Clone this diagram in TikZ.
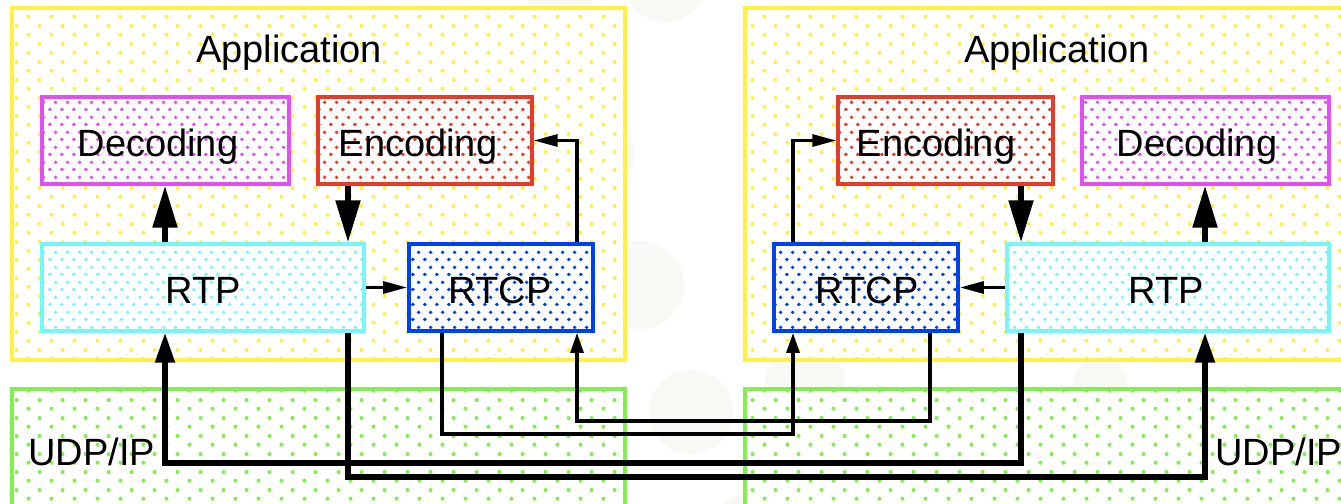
\documentclass[tikz,border=0pt]{standalone}
\usepackage{fontspec}
\setmainfont{Liberation Sans}
\usetikzlibrary{arrows.meta,patterns,fit}

\definecolor{ylw}{RGB}{255,240,70}
\definecolor{grn}{RGB}{130,238,80}
\definecolor{mag}{RGB}{224,80,240}
\definecolor{redb}{RGB}{228,60,40}
\definecolor{cyn}{RGB}{120,246,246}
\definecolor{blu}{RGB}{0,64,240}
\definecolor{haze}{RGB}{248,248,245}

% staggered dot grids for the area fills
\pgfdeclarepatternformonly{sparsedots}{\pgfqpoint{0pt}{0pt}}{\pgfqpoint{17.25pt}{13.2pt}}{\pgfqpoint{17.25pt}{13.2pt}}{%
  \pgfpathcircle{\pgfqpoint{4.31pt}{3.3pt}}{1.6pt}%
  \pgfpathcircle{\pgfqpoint{12.94pt}{9.9pt}}{1.6pt}%
  \pgfusepath{fill}}
\pgfdeclarepatternformonly{densedots}{\pgfqpoint{0pt}{0pt}}{\pgfqpoint{8.78pt}{11.25pt}}{\pgfqpoint{8.78pt}{11.25pt}}{%
  \pgfpathcircle{\pgfqpoint{2.19pt}{2.81pt}}{1.5pt}%
  \pgfpathcircle{\pgfqpoint{6.58pt}{8.44pt}}{1.5pt}%
  \pgfusepath{fill}}

\tikzset{
  frame/.style={inner sep=0pt, line width=2.6pt, preaction={fill=white}},
  layer/.style={pattern=sparsedots},
  unit/.style={pattern=densedots},
  lbl/.style={inner sep=0pt, anchor=base, font=\fontsize{28.5pt}{34pt}\selectfont},
  thk/.style={line width=4pt},
  thn/.style={line width=2.3pt},
  bigtip/.style={-{Triangle[length=31.5pt,width=18pt]}},
  udptip/.style={-{Triangle[length=22.5pt,width=14.25pt]}},
  ctltip/.style={-{Triangle[length=18pt,width=9pt]}},
  ctltipS/.style={-{Triangle[length=15pt,width=9.75pt]}}
}

\begin{document}
\begin{tikzpicture}[x=0.75pt,y=-0.75pt]

\useasboundingbox (0,0) rectangle (1341,503);
\clip (0,0) rectangle (1341,503);

% faint background discs
\fill[haze] (665,-20) circle (42);
\fill[haze] (590,155) circle (45);
\fill[haze] (640,285) circle (44);
\fill[haze] (691,412) circle (42);
\fill[haze] (805,385) circle (40);
\fill[haze] (1100,385) circle (27);
\fill[haze] (745,530) circle (35);
\fill[haze] (560,-30) circle (45);

% protocol layers
\node[frame, fit={(12,8) (625,360)}, draw=ylw, layer, pattern color=ylw] (appL) {};
\node[frame, fit={(745,8) (1365,360)}, draw=ylw, layer, pattern color=ylw] (appR) {};
\node[frame, fit={(12,389) (625,530)}, draw=grn, layer, pattern color=grn] (udpL) {};
\node[frame, fit={(745,389) (1365,530)}, draw=grn, layer, pattern color=grn] (udpR) {};

% functional blocks
\node[frame, fit={(42,97) (289,184)}, draw=mag, unit, pattern color=mag] (decL) {};
\node[frame, fit={(318,97) (532,184)}, draw=redb, unit, pattern color=redb] (encL) {};
\node[frame, fit={(42,244) (364,331)}, draw=cyn, unit, pattern color=cyn] (rtpL) {};
\node[frame, fit={(409,244) (593,331)}, draw=blu, line width=2.9pt, unit, pattern color=blu] (rtcpL) {};
\node[frame, fit={(838,97) (1053,184)}, draw=redb, unit, pattern color=redb] (encR) {};
\node[frame, fit={(1082,97) (1329,184)}, draw=mag, unit, pattern color=mag] (decR) {};
\node[frame, fit={(774,244) (958,331)}, draw=blu, line width=2.9pt, unit, pattern color=blu] (rtcpR) {};
\node[frame, fit={(1007,244) (1329,331)}, draw=cyn, unit, pattern color=cyn] (rtpR) {};

% labels
\node[lbl] (tAppL) at (289,63) {Application};
\node[lbl] (tAppR) at (1057,63) {Application};
\node[lbl] (tDecL) at (158,156) {Decoding};
\node[lbl] (tEncL) at (418,156) {Encoding};
\node[lbl] (tRtpL) at (203,303) {RTP};
\node[lbl] (tRtcpL) at (500,303) {RTCP};
\node[lbl] (tEncR) at (936,156) {Encoding};
\node[lbl] (tDecR) at (1197,156) {Decoding};
\node[lbl] (tRtcpR) at (867,303) {RTCP};
\node[lbl] (tRtpR) at (1166,303) {RTP};
\node[lbl, anchor=base west] (tUdpL) at (28,465) {UDP/IP};
\node[lbl, anchor=base west] (tUdpR) at (1215,465) {UDP/IP};

% lanes of the media and control paths
\coordinate (encLaneL) at (348,477);
\coordinate (decLaneR) at (1205,477);
\coordinate (encLaneR) at (1021,463);
\coordinate (decLaneL) at (165,463);
\coordinate (ctlOutL) at (442,434);
\coordinate (ctlInR) at (793,434);
\coordinate (ctlOutR) at (930,421);
\coordinate (ctlInL) at (577,421);

% media flow
\draw[thk, bigtip] (encL.south -| encLaneL) -- (rtpL.north -| encLaneL);
\draw[thk, bigtip] (rtpL.north -| decLaneL) -- (decL.south -| decLaneL);
\draw[thk, bigtip] (encR.south -| encLaneR) -- (rtpR.north -| encLaneR);
\draw[thk, bigtip] (rtpR.north -| decLaneR) -- (decR.south -| decLaneR);
\draw[thk, udptip] (rtpL.south -| encLaneL) -- (encLaneL) -- (decLaneR) -- (rtpR.south -| decLaneR);
\draw[thk, udptip] (rtpR.south -| encLaneR) -- (encLaneR) -- (decLaneL) -- (rtpL.south -| decLaneL);

% control flow
\draw[thn, ctltip] (rtpL.east) -- (rtcpL.west);
\draw[thn, ctltip] (rtpR.west) -- (rtcpR.east);
\draw[thn, ctltip] (rtcpL.north -| ctlInL) |- (encL.east);
\draw[thn, ctltip] (rtcpR.north -| ctlInR) |- (encR.west);
\draw[thn, ctltipS] (rtcpL.south -| ctlOutL) -- (ctlOutL) -- (ctlInR) -- (rtcpR.south -| ctlInR);
\draw[thn, ctltipS] (rtcpR.south -| ctlOutR) -- (ctlOutR) -- (ctlInL) -- (rtcpL.south -| ctlInL);
\end{tikzpicture}
\end{document}
